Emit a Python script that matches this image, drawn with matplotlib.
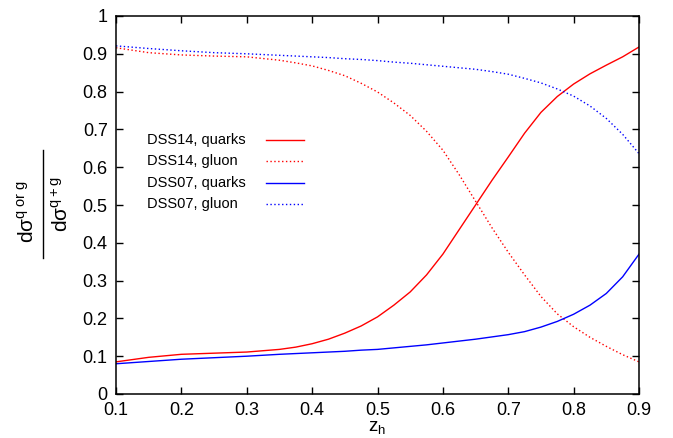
import matplotlib
matplotlib.use('Agg')
import matplotlib.pyplot as plt
from matplotlib.lines import Line2D
from matplotlib.ticker import FuncFormatter

plt.rcParams['font.family'] = ['Liberation Sans', 'DejaVu Sans']
plt.rcParams['mathtext.fontset'] = 'custom'
plt.rcParams['mathtext.rm'] = 'Liberation Sans'
plt.rcParams['mathtext.it'] = 'Liberation Sans'

# values
zh = [0.1, 0.15, 0.2, 0.25, 0.3, 0.35, 0.375, 0.4, 0.425, 0.45, 0.475, 0.5,
      0.525, 0.55, 0.575, 0.6, 0.625, 0.65, 0.675, 0.7, 0.725, 0.75, 0.775,
      0.8, 0.825, 0.85, 0.875, 0.9]
dss14_quarks = [0.085, 0.097, 0.105, 0.108, 0.111, 0.118, 0.124, 0.133, 0.145,
                0.161, 0.18, 0.204, 0.235, 0.27, 0.315, 0.37, 0.435, 0.5,
                0.565, 0.627, 0.69, 0.745, 0.787, 0.82, 0.847, 0.87, 0.892,
                0.918]
dss14_gluon = [0.916, 0.903, 0.897, 0.894, 0.892, 0.883, 0.876, 0.868, 0.856,
               0.842, 0.822, 0.799, 0.77, 0.737, 0.695, 0.645, 0.58, 0.51,
               0.44, 0.375, 0.315, 0.258, 0.212, 0.178, 0.15, 0.126, 0.104,
               0.085]
dss07_quarks = [0.08, 0.086, 0.092, 0.096, 0.1, 0.105, 0.107, 0.109, 0.111,
                0.113, 0.116, 0.118, 0.122, 0.126, 0.13, 0.135, 0.14, 0.145,
                0.151, 0.157, 0.165, 0.177, 0.192, 0.211, 0.235, 0.266, 0.31,
                0.37]
dss07_gluon = [0.921, 0.914, 0.908, 0.903, 0.9, 0.896, 0.894, 0.892, 0.89,
               0.887, 0.885, 0.882, 0.878, 0.875, 0.871, 0.867, 0.863, 0.859,
               0.853, 0.846, 0.835, 0.823, 0.807, 0.788, 0.762, 0.729, 0.687,
               0.636]

labels = ['DSS14, quarks', 'DSS14, gluon', 'DSS07, quarks', 'DSS07, gluon']
xticks = [0.1, 0.2, 0.3, 0.4, 0.5, 0.6, 0.7, 0.8, 0.9]
yticks = [0, 0.1, 0.2, 0.3, 0.4, 0.5, 0.6, 0.7, 0.8, 0.9, 1]

dot = (0, (1, 1.8))
series = [(dss14_quarks, 'red', '-'), (dss14_gluon, 'red', dot),
          (dss07_quarks, 'blue', '-'), (dss07_gluon, 'blue', dot)]

fig = plt.figure(figsize=(6.73, 4.38), dpi=100)
ax = fig.add_axes([116/673, 1-394/438, 523/673, 378/438])

for (vals, c, ls) in series:
    ax.plot(zh, vals, color=c, linestyle=ls, lw=1.0)

ax.set_xlim(0.1, 0.9)
ax.set_ylim(0, 1)
ax.set_xticks(xticks)
ax.set_yticks(yticks)
fmt = FuncFormatter(lambda v, p: '%g' % v)
ax.xaxis.set_major_formatter(fmt)
ax.yaxis.set_major_formatter(fmt)
ax.tick_params(direction='in', length=5, width=1, top=True, right=True,
               labelsize=13)
ax.tick_params(axis='x', pad=5.5)
ax.tick_params(axis='y', pad=6)
for s in ax.spines.values():
    s.set_linewidth(1.1)

# gnuplot-style key: text left, sample on the right
rows = [0.672, 0.616, 0.559, 0.503]
for (vals, c, ls), lab, yy in zip(series, labels, rows):
    ax.text(0.059, yy, lab, transform=ax.transAxes, fontsize=10.5, va='center')
    ax.add_line(Line2D([0.287, 0.360], [yy, yy], transform=ax.transAxes,
                       color=c, linestyle=ls, lw=1.0))

# x label placed by hand, just under the tick labels
fig.text(377/673, 1-427.5/438, r'$\mathrm{z_h}$', fontsize=13.5,
         ha='center', va='center')

# y label as a tall fraction
fig.text(28/673, 1-211/438, r'$\mathrm{d\sigma^{q\ or\ g}}$', rotation=90,
         fontsize=15, ha='center', va='center')
fig.text(62/673, 1-204/438, r'$\mathrm{d\sigma^{q+g}}$', rotation=90,
         fontsize=15, ha='center', va='center')
fig.add_artist(Line2D([43/673, 43/673], [1-150/438, 1-258/438],
                      transform=fig.transFigure, color='black', lw=1.0))

fig.savefig('out.png', dpi=100)
